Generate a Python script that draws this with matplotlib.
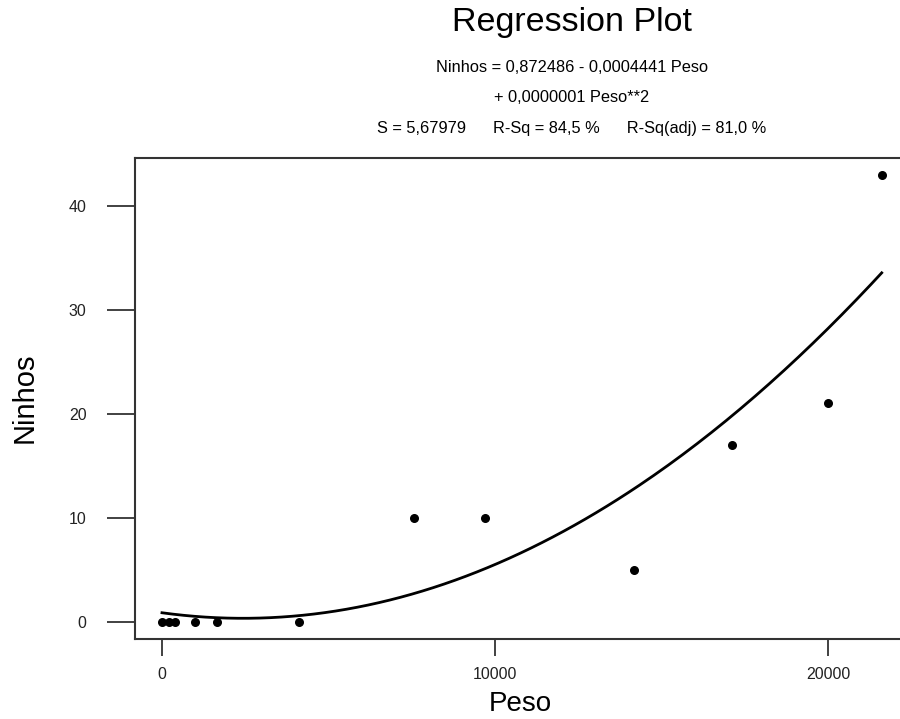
import numpy as np
import matplotlib.pyplot as plt

plt.rcParams['font.family'] = ['Liberation Sans', 'DejaVu Sans']

# data
peso = [0, 200, 400, 1000, 1650, 4100, 7570, 9680, 14170, 17100, 20000, 21600]
ninhos = [0, 0, 0, 0, 0, 0, 10, 10, 5, 17, 21, 43]

eq_lines = ["Ninhos = 0,872486 - 0,0004441 Peso",
            "+ 0,0000001 Peso**2",
            "S = 5,67979      R-Sq = 84,5 %      R-Sq(adj) = 81,0 %"]

x = np.array(peso, dtype=float)
y = np.array(ninhos, dtype=float)

# quadratic fit
coef = np.polyfit(x, y, 2)
xs = np.linspace(x.min(), x.max(), 200)
ys = np.polyval(coef, xs)

fig = plt.figure(figsize=(9, 7.19), dpi=100)
# axes runs past the right edge of the picture (cropped in the original)
ax = fig.add_axes([135 / 900, 0.1117, (1009 - 135) / 900, 0.6686])

ax.plot(xs, ys, color='black', lw=2.0)
ax.scatter(x, y, s=30, color='black', zorder=3)

ax.set_xlim(-810, 25420)
ax.set_ylim(-1.63, 44.6)
ax.set_xticks([0, 10000, 20000])
ax.set_yticks([0, 10, 20, 30, 40])

for s in ['top', 'left', 'bottom']:
    ax.spines[s].set_color('#333333')
    ax.spines[s].set_linewidth(1.5)
ax.spines['right'].set_visible(False)

ax.tick_params(axis='y', length=20, width=1.3, color='#333333', pad=15,
               labelsize=11.5, labelcolor='#222222')
ax.tick_params(axis='x', length=12.5, width=1.3, color='#333333', pad=8,
               labelsize=11.5, labelcolor='#222222')

fig.text(520 / 900, 1 - 704 / 719, "Peso", fontsize=20, ha='center', va='center')
fig.text(25 / 900, 1 - 398 / 719, "Ninhos", fontsize=21, rotation=90,
         ha='center', va='center')

fig.text(572 / 900, 1 - 23 / 719, "Regression Plot", fontsize=24.5,
         ha='center', va='center')
for i, line in enumerate(eq_lines):
    fig.text(572 / 900, 1 - (68 + i * 30) / 719, line, fontsize=11.8,
             ha='center', va='center')

fig.savefig('out.png', dpi=100)
